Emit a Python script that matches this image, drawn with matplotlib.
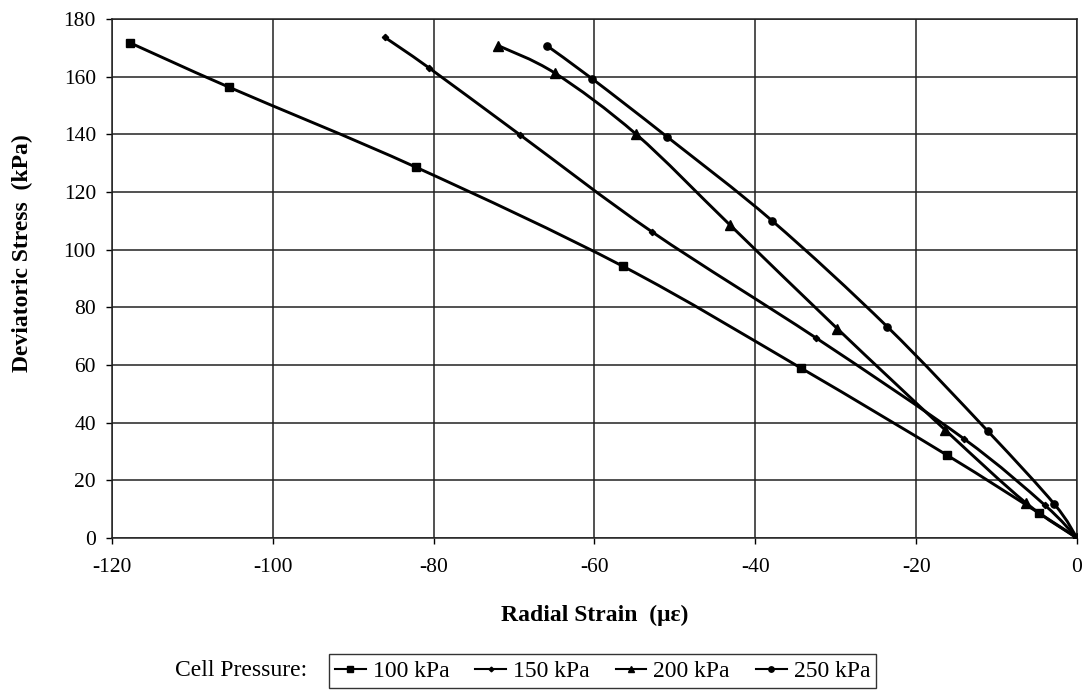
import matplotlib.pyplot as plt
from matplotlib.path import Path
from matplotlib.patches import PathPatch
from matplotlib.lines import Line2D
import numpy as np

# data (radial strain in microstrain, deviatoric stress in kPa)
strain_100 = [-117.8, -105.4, -82.2, -56.5, -34.3, -16.2, -4.7, 0.0]
stress_100 = [171.8, 156.3, 128.6, 94.3, 58.9, 28.8, 8.6, 0.0]

strain_150 = [-86.1, -80.6, -69.2, -52.8, -32.4, -14.1, -4.0, 0.0]
stress_150 = [173.7, 163.1, 139.7, 106.1, 69.3, 34.5, 11.4, 0.0]

strain_200 = [-72.0, -64.9, -54.8, -43.2, -29.8, -16.4, -6.4, 0.0]
stress_200 = [170.8, 161.2, 140.0, 108.7, 72.6, 37.5, 12.3, 0.0]

strain_250 = [-65.9, -60.3, -51.0, -37.9, -23.6, -11.1, -2.8, 0.0]
stress_250 = [170.7, 159.3, 139.2, 110.0, 73.3, 37.1, 11.7, 0.0]

labels = ["100 kPa", "150 kPa", "200 kPa", "250 kPa"]
markers = ["s", "D", "^", "o"]
msizes = [6, 3.2, 6.5, 5.2]

plt.rcParams['font.family'] = ['Liberation Serif', 'DejaVu Serif']
plt.rcParams['axes.unicode_minus'] = False


def smooth_path(xs, ys):
    # Excel-style smoothed line: cubic bezier segments through each point
    pts = np.column_stack([xs, ys])
    n = len(pts)
    verts = [pts[0]]
    codes = [Path.MOVETO]
    for i in range(n - 1):
        p0 = pts[i - 1] if i > 0 else pts[i]
        p1 = pts[i]
        p2 = pts[i + 1]
        p3 = pts[i + 2] if i + 2 < n else pts[i + 1]
        c1 = p1 + (p2 - p0) / 6.0
        c2 = p2 - (p3 - p1) / 6.0
        verts += [c1, c2, p2]
        codes += [Path.CURVE4] * 3
    return Path(verts, codes)


fig = plt.figure(figsize=(10.86, 6.91), dpi=100)
ax = fig.add_axes([0.1031, 0.2214, 0.8886, 0.7511])

series = [(strain_100, stress_100), (strain_150, stress_150),
          (strain_200, stress_200), (strain_250, stress_250)]

handles = []
for (xs, ys), lab, mk, ms in zip(series, labels, markers, msizes):
    ax.add_patch(PathPatch(smooth_path(xs, ys), facecolor='none',
                           edgecolor='black', lw=2.1, zorder=3))
    ax.plot(xs, ys, linestyle='none', marker=mk, ms=ms, color='black', zorder=4)
    handles.append(Line2D([], [], color='black', lw=1.5, marker=mk, ms=ms * 0.75, label=lab))

ax.set_xlim(-120, 0)
ax.set_ylim(0, 180)
ax.set_xticks(np.arange(-120, 1, 20))
ax.set_yticks(np.arange(0, 181, 20))
ax.grid(True, color='#222222', lw=1.1)
ax.set_axisbelow(True)
for sp in ax.spines.values():
    sp.set_color('#222222')
    sp.set_linewidth(1.1)
ax.tick_params(direction='out', length=4.5, width=1, labelsize=15.5)
ax.tick_params(axis='y', pad=7)
ax.tick_params(axis='x', pad=10)

fig.text(0.5474, 1 - 615 / 691, "Radial Strain  (\u03bc\u03b5)", fontsize=17,
         fontweight='bold', ha='center', va='center')
fig.text(0.0203, 1 - 253 / 691, "Deviatoric Stress  (kPa)", fontsize=17,
         fontweight='bold', ha='center', va='center', rotation=90)

leg_y = 1 - 671 / 691
fig.text(307 / 1086, leg_y, "Cell Pressure:", fontsize=17, ha='right', va='center')
leg = fig.legend(handles=handles, ncol=4, loc='center right',
                 bbox_to_anchor=(876 / 1086, leg_y), borderaxespad=0,
                 fontsize=17, frameon=True, fancybox=False, handlelength=1.3,
                 handletextpad=0.3, columnspacing=1.1, borderpad=0.25)
leg.get_frame().set_edgecolor('black')
leg.get_frame().set_linewidth(1.0)

fig.savefig("out.png", dpi=100)
